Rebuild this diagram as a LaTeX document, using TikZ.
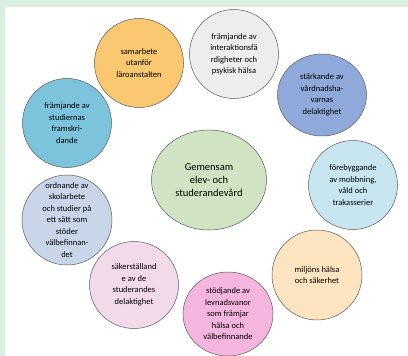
\documentclass[tikz,border=0pt]{standalone}
\usepackage{fontspec}
\setmainfont{Carlito}
\usetikzlibrary{shapes.geometric}
\definecolor{frameclr}{RGB}{218,238,226}
\definecolor{rimclr}{RGB}{90,90,90}
\definecolor{samclr}{RGB}{249,200,112}
\definecolor{intclr}{RGB}{237,237,237}
\definecolor{vardclr}{RGB}{143,170,218}
\definecolor{mobbclr}{RGB}{199,230,239}
\definecolor{miljclr}{RGB}{252,228,192}
\definecolor{levnclr}{RGB}{244,182,222}
\definecolor{delaclr}{RGB}{242,218,234}
\definecolor{skolclr}{RGB}{201,214,234}
\definecolor{framclr}{RGB}{124,196,220}
\definecolor{gemclr}{RGB}{208,227,194}
\tikzset{
    area/.style={circle,draw=rimclr,line width=0.5pt,minimum size=89pt,inner sep=0pt,
        align=center,font=\fontsize{8.5}{11.5}\selectfont},
    core/.style={ellipse,draw=rimclr,line width=0.5pt,minimum width=115pt,minimum height=100pt,
        inner sep=0pt,align=center,font=\fontsize{10.5}{13.3}\selectfont},
}

\begin{document}
\begin{tikzpicture}[x=1pt,y=-1pt]
\useasboundingbox (0,0) rectangle (408,356);
% page frame
\fill[frameclr] (0,0) rectangle (408,356);
\fill[white] (5,7) rectangle (408,356);

% ring of areas round the centre
\node[area,fill=samclr]  (sam)  at (139,63)  {samarbete\\utanför\\läroanstalten};
\node[area,fill=intclr]  (int)  at (234,54)  {främjande av\\interaktionsfä\\rdigheter och\\psykisk hälsa};
\node[area,fill=vardclr,minimum size=82pt,ellipse,minimum width=89pt] (vard) at (322,95) {stärkande av\\vårdnadsha-\\varnas\\delaktighet};
\node[area,fill=mobbclr] (mobb) at (353,185) {förebyggande\\av mobbning,\\våld och\\trakasserier};
\node[area,fill=miljclr,minimum size=90pt] (milj) at (317,275) {miljöns hälsa\\och säkerhet};
\node[area,fill=levnclr,ellipse,minimum width=90pt,minimum height=84pt] (levn) at (228,314) {stödjande av\\levnadsvanor\\som främjar\\hälsa och\\välbefinnande};
\node[area,fill=delaclr,ellipse,minimum width=89pt,minimum height=87pt] (dela) at (134,285) {säkerställand\\e av de\\studerandes\\delaktighet};
\node[area,fill=skolclr,minimum size=90pt] (skol) at (67,220) {ordnande av\\skolarbete\\och studier på\\ett sätt som\\stöder\\välbefinnan-\\det};
\node[area,fill=framclr,minimum size=89pt] (fram) at (67,123) {främjande av\\studiernas\\framskri-\\dande};

% centre
\node[core,fill=gemclr] (gem) at (209,180) {Gemensam\\elev- och\\studerandevård};
\end{tikzpicture}
\end{document}
